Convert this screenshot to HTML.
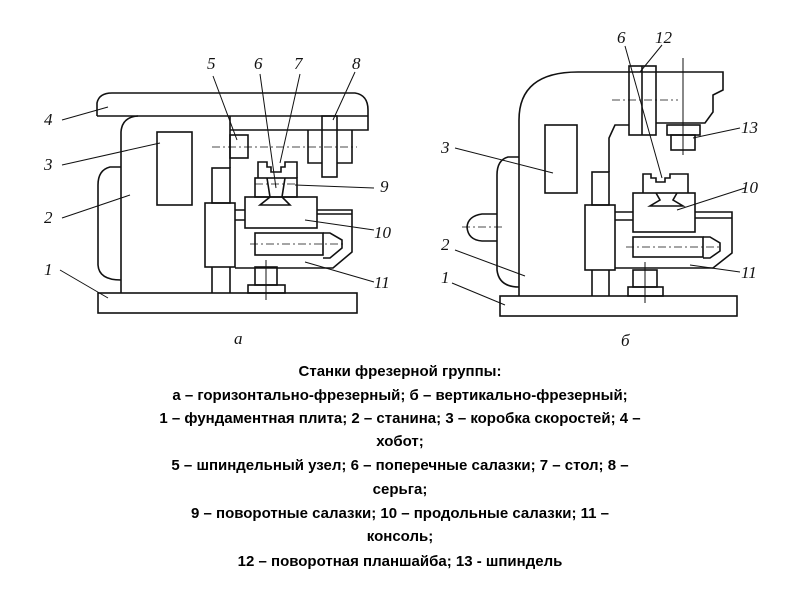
<!DOCTYPE html>
<html><head><meta charset="utf-8"><style>
html,body{margin:0;padding:0;background:#fff;}
svg{display:block;}
.l{fill:none;stroke:#111;stroke-width:1.6;}
.t{stroke:#111;stroke-width:1;}
.c{fill:none;stroke:#111;stroke-width:0.8;stroke-dasharray:8 3 2 3;}
.n{font-family:"Liberation Serif",serif;font-style:italic;font-size:17px;fill:#111;}
.cap{font-family:"Liberation Sans",sans-serif;font-weight:bold;font-size:15px;fill:#000;text-anchor:middle;}
</style></head><body>
<svg width="800" height="600" viewBox="0 0 800 600" xmlns="http://www.w3.org/2000/svg">
<!-- LEFT (a) -->
<g>
<rect class="l" x="98" y="293" width="259" height="20"/>
<path class="l" d="M97 116 L97 103 Q99 93 112 93 L355 93 Q368 95 368 110 L368 130 L230 130"/>
<line class="l" x1="97" y1="116" x2="368" y2="116"/>
<path class="l" d="M121 293 L121 132 Q122 117 138 116"/>
<path class="l" d="M230 116 L230 168"/>
<rect class="l" x="157" y="132" width="35" height="73"/>
<path class="l" d="M121 167 L110 167 Q98 170 98 185 L98 265 Q99 280 121 280"/>
<rect class="l" x="212" y="168" width="18" height="35"/>
<rect class="l" x="205" y="203" width="30" height="64"/>
<path class="l" d="M212 267 L212 293 M230 267 L230 293"/>
<rect class="l" x="230" y="135" width="18" height="23"/>
<rect class="l" x="322" y="116" width="15" height="61"/>
<path class="l" d="M308 130 L308 163 L322 163 M337 163 L352 163 L352 130"/>
<line class="c" x1="212" y1="147" x2="357" y2="147"/>
<rect class="l" x="245" y="197" width="72" height="31"/>
<path class="l" d="M235 210 L245 210 M235 220 L245 220"/>
<path class="l" d="M317 210 L352 210 L352 252 L333 268 L235 268"/>
<line class="l" x1="317" y1="214" x2="352" y2="214"/>
<rect class="l" x="255" y="233" width="68" height="22"/>
<path class="l" d="M323 233 L330 233 L342 240 L342 248 L330 258 L323 258"/>
<line class="c" x1="250" y1="244" x2="345" y2="244"/>
<rect class="l" x="255" y="178" width="42" height="19"/>
<line class="c" x1="255" y1="184" x2="297" y2="184"/>
<path class="l" d="M258 178 L258 162 L267 162 L267 167 L271 167 L271 172 L281 172 L281 167 L285 167 L285 162 L297 162 L297 178"/>
<path class="l" d="M267 178 L270 197 L260 205 L290 205 L282 197 L285 178"/>
<rect class="l" x="255" y="267" width="22" height="18"/>
<rect class="l" x="248" y="285" width="37" height="8"/>
<line class="t" x1="266" y1="260" x2="266" y2="300"/>
<text class="n" x="44" y="125">4</text>
<text class="n" x="44" y="170">3</text>
<text class="n" x="44" y="223">2</text>
<text class="n" x="44" y="275">1</text>
<text class="n" x="207" y="69">5</text>
<text class="n" x="254" y="69">6</text>
<text class="n" x="294" y="69">7</text>
<text class="n" x="352" y="69">8</text>
<text class="n" x="380" y="192">9</text>
<text class="n" x="374" y="238">10</text>
<text class="n" x="374" y="288">11</text>
<text class="n" x="234" y="344">а</text>
<path class="t" d="M62 120 L108 107 M62 165 L160 143 M62 218 L130 195 M60 270 L108 298 M213 76 L237 140 M260 74 L276 188 M300 74 L280 163 M355 72 L333 120 M295 185 L374 188 M305 220 L374 230 M305 262 L374 282"/>
</g>
<!-- RIGHT (б) -->
<g>
<rect class="l" x="500" y="296" width="237" height="20"/>
<path class="l" d="M519 296 L519 120 Q519 72 578 72 L723 72 L723 90 L713 95 L713 112 L705 123 L656 123"/>
<rect class="l" x="629" y="66" width="27" height="69"/>
<line class="l" x1="642" y1="66" x2="642" y2="135"/>
<path class="l" d="M629 125 L615 125 L609 138 L609 172"/>
<rect class="l" x="592" y="172" width="17" height="33"/>
<rect class="l" x="585" y="205" width="30" height="65"/>
<path class="l" d="M592 270 L592 296 M609 270 L609 296"/>
<rect class="l" x="667" y="125" width="33" height="10"/>
<rect class="l" x="671" y="135" width="24" height="15"/>
<line class="t" x1="683" y1="58" x2="683" y2="155"/>
<line class="c" x1="612" y1="100" x2="678" y2="100"/>
<rect class="l" x="545" y="125" width="32" height="68"/>
<path class="l" d="M519 157 L508 157 Q497 160 497 175 L497 270 Q499 287 519 287"/>
<path class="l" d="M497 214 L482 214 Q468 216 467 227 Q468 240 482 241 L497 241"/>
<line class="c" x1="462" y1="227" x2="505" y2="227"/>
<rect class="l" x="633" y="193" width="62" height="39"/>
<path class="l" d="M615 212 L633 212 M615 220 L633 220"/>
<path class="l" d="M695 212 L732 212 L732 253 L713 268 L615 268"/>
<line class="l" x1="695" y1="218" x2="732" y2="218"/>
<rect class="l" x="633" y="237" width="70" height="20"/>
<path class="l" d="M703 237 L710 237 L720 243 L720 251 L710 258 L703 258"/>
<line class="c" x1="626" y1="247" x2="722" y2="247"/>
<path class="l" d="M643 193 L643 174 L651 174 L651 178 L656 178 L656 182 L665 182 L665 178 L670 178 L670 174 L688 174 L688 193"/>
<path class="l" d="M656 193 L660 200 L650 206 L683 206 L673 200 L677 193"/>
<rect class="l" x="633" y="270" width="24" height="17"/>
<rect class="l" x="628" y="287" width="35" height="9"/>
<line class="t" x1="645" y1="262" x2="645" y2="303"/>
<text class="n" x="617" y="43">6</text>
<text class="n" x="655" y="43">12</text>
<text class="n" x="741" y="133">13</text>
<text class="n" x="441" y="153">3</text>
<text class="n" x="741" y="193">10</text>
<text class="n" x="441" y="250">2</text>
<text class="n" x="441" y="283">1</text>
<text class="n" x="741" y="278">11</text>
<text class="n" x="621" y="346">б</text>
<path class="t" d="M625 46 L662 178 M662 45 L640 72 M740 128 L693 138 M455 148 L553 173 M745 188 L677 210 M455 250 L525 276 M452 283 L505 305 M740 272 L690 265"/>
</g>
<!-- Caption -->
<text class="cap" x="400" y="376">Станки фрезерной группы:</text>
<text class="cap" x="400" y="400">а – горизонтально-фрезерный; б – вертикально-фрезерный;</text>
<text class="cap" x="400" y="423">1 – фундаментная плита; 2 – станина; 3 – коробка скоростей; 4 –</text>
<text class="cap" x="400" y="446">хобот;</text>
<text class="cap" x="400" y="470">5 – шпиндельный узел; 6 – поперечные салазки; 7 – стол; 8 –</text>
<text class="cap" x="400" y="494">серьга;</text>
<text class="cap" x="400" y="518">9 – поворотные салазки; 10 – продольные салазки; 11 –</text>
<text class="cap" x="400" y="541">консоль;</text>
<text class="cap" x="400" y="566">12 – поворотная планшайба; 13 - шпиндель</text>
</svg>
</body></html>
